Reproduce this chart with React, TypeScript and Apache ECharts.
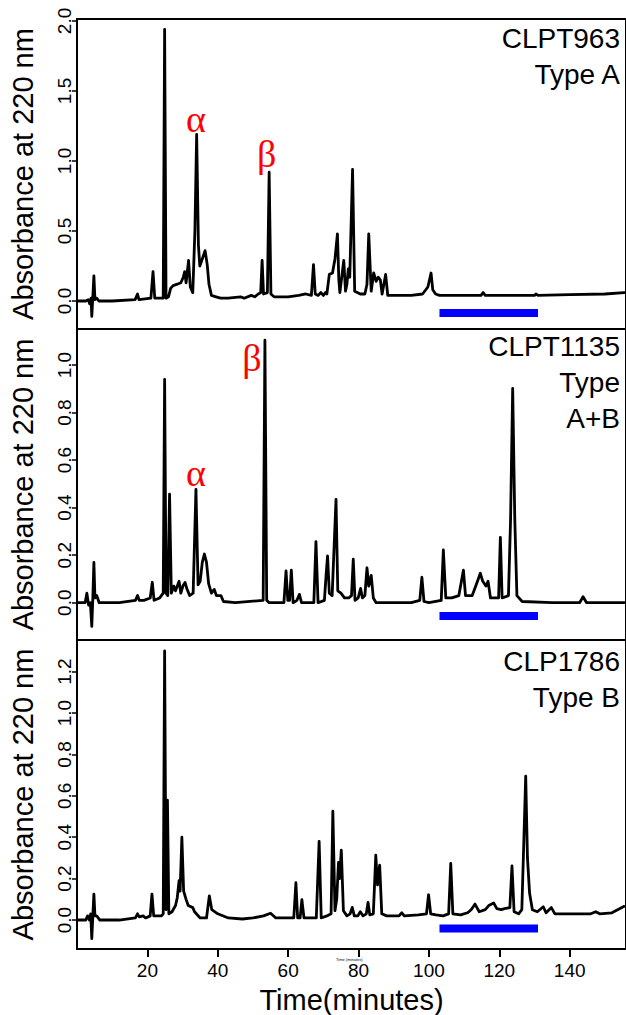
import React, { useEffect, useRef } from "react";
import * as echarts from "echarts";

// Retention time axis (minutes)
const timeMin = 0;
const timeMax = 156;
const timeTicks = [20, 40, 60, 80, 100, 120, 140];

// Absorbance tick values per panel
const ticksTypeA = [0, 0.5, 1.0, 1.5, 2.0];
const ticksTypeAB = [0, 0.2, 0.4, 0.6, 0.8, 1.0];
const ticksTypeB = [0, 0.2, 0.4, 0.6, 0.8, 1.0, 1.2];

// Absorbance ranges per panel
const rangeTypeA = [-0.2, 2.014];
const rangeTypeAB = [-0.157, 1.152];
const rangeTypeB = [-0.14, 1.353];

// Chromatogram: CLPT963 (Type A) — [minutes, absorbance]
const traceCLPT963: [number, number][] = [
  [0.2, 0.0], [2.5, 0.0], [3.2, 0.01], [3.6, -0.02], [4.0, 0.02], [4.2, -0.11], [4.5, 0.03],
  [4.8, 0.18], [5.1, 0.01], [5.6, 0.02], [6.2, 0.0], [10, 0.0], [16.5, 0.01], [17.2, 0.05],
  [17.6, 0.01], [21.0, 0.02], [21.6, 0.21], [22.1, 0.02], [24.5, 0.02], [24.9, 1.94],
  [25.3, 0.02], [26.0, 0.03], [26.6, 0.09], [27.3, 0.11], [28.5, 0.12], [29.5, 0.13],
  [30.2, 0.17], [30.6, 0.21], [31.0, 0.13], [31.7, 0.29], [32.2, 0.1], [32.9, 0.06],
  [33.5, 0.5], [34.0, 1.19], [34.5, 0.4], [34.9, 0.25], [35.6, 0.3], [36.4, 0.36],
  [37.0, 0.26], [37.5, 0.12], [38.2, 0.04], [39.5, 0.03], [40.8, 0.02], [43, 0.02],
  [46.5, 0.03], [47.5, 0.02], [49.5, 0.04], [50.5, 0.03], [51.5, 0.05], [52.2, 0.06],
  [52.6, 0.29], [53.0, 0.05], [54.1, 0.06], [54.6, 0.92], [55.1, 0.05], [56, 0.03],
  [60, 0.03], [63, 0.04], [65, 0.05], [66.6, 0.04], [67.2, 0.26], [67.7, 0.05],
  [68.5, 0.04], [69.3, 0.06], [70.0, 0.04], [70.6, 0.06], [71.0, 0.05], [71.7, 0.19],
  [72.6, 0.2], [73.3, 0.3], [74.0, 0.48], [74.4, 0.15], [74.7, 0.06], [75.8, 0.29],
  [76.3, 0.07], [76.7, 0.12], [77.1, 0.23], [77.5, 0.17], [78.3, 0.94], [78.9, 0.07],
  [80.5, 0.05], [81.8, 0.05], [82.4, 0.12], [82.9, 0.48], [83.6, 0.07], [84.3, 0.2],
  [85.0, 0.14], [85.6, 0.17], [86.2, 0.15], [86.7, 0.05], [87.7, 0.19], [88.3, 0.04],
  [89.5, 0.04], [95, 0.04], [98.2, 0.05], [99.7, 0.1], [100.6, 0.2], [101.1, 0.08],
  [101.9, 0.05], [103, 0.04], [110, 0.04], [114.8, 0.04], [115.4, 0.06], [116, 0.04],
  [125, 0.04], [130, 0.04], [130.4, 0.05], [131, 0.04], [140, 0.045], [150, 0.05],
  [155.5, 0.06],
];

// Chromatogram: CLPT1135 (Type A+B)
const traceCLPT1135: [number, number][] = [
  [0.2, 0.0], [2.3, 0.0], [2.8, 0.04], [3.3, -0.01], [3.8, 0.0], [4.2, -0.1], [4.5, 0.02],
  [4.8, 0.17], [5.1, 0.02], [5.6, 0.03], [6.3, 0.0], [12, 0.0], [16.6, 0.01], [17.2, 0.03],
  [17.7, 0.01], [19, 0.01], [20.8, 0.02], [21.4, 0.086], [21.9, 0.01], [23.5, 0.02],
  [24.5, 0.04], [24.9, 0.94], [25.3, 0.04], [25.8, 0.03], [26.3, 0.457], [26.8, 0.04],
  [27.5, 0.07], [28.0, 0.05], [29.0, 0.09], [29.5, 0.04], [30.1, 0.07], [30.7, 0.085],
  [31.2, 0.06], [32.0, 0.03], [33.0, 0.04], [33.8, 0.477], [34.4, 0.075], [35.0, 0.09],
  [35.6, 0.17], [36.2, 0.205], [36.8, 0.17], [37.4, 0.08], [38.2, 0.04], [39.0, 0.056],
  [39.6, 0.03], [40.9, 0.03], [41.6, 0.005], [45, 0.0], [52.9, 0.01], [53.4, 1.105],
  [53.9, 0.01], [54.6, 0.0], [58.8, 0.0], [59.4, 0.134], [59.9, 0.01], [60.4, 0.01],
  [60.9, 0.137], [61.4, 0.0], [62.5, 0.01], [63.2, 0.035], [63.8, 0.0], [67.3, 0.0],
  [67.9, 0.257], [68.5, 0.0], [70.3, 0.01], [70.8, 0.12], [71.2, 0.197], [71.7, 0.04],
  [72.5, 0.03], [73.6, 0.435], [74.1, 0.05], [75.0, 0.04], [76.0, 0.02], [77.2, 0.02],
  [78.0, 0.03], [78.5, 0.183], [79.0, 0.01], [79.9, 0.02], [80.6, 0.06], [81.1, 0.02],
  [81.8, 0.03], [82.4, 0.147], [82.9, 0.07], [83.6, 0.115], [84.2, 0.02], [85, 0.0],
  [95, 0.0], [97.4, 0.01], [98.0, 0.107], [98.6, 0.005], [100, 0.0], [103.5, 0.01],
  [104.1, 0.222], [104.8, 0.02], [106.5, 0.02], [108.5, 0.03], [109.8, 0.137],
  [110.4, 0.03], [112.3, 0.03], [113.8, 0.09], [114.6, 0.124], [115.3, 0.09], [116.2, 0.07],
  [116.8, 0.09], [117.5, 0.02], [119.8, 0.02], [120.3, 0.275], [120.8, 0.02],
  [122.6, 0.03], [123.2, 0.35], [123.8, 0.902], [124.4, 0.35], [125.0, 0.03],
  [126.5, 0.005], [135, 0.0], [142.8, 0.0], [143.8, 0.025], [144.8, 0.0], [155.5, 0.0],
];

// Chromatogram: CLP1786 (Type B)
const traceCLP1786: [number, number][] = [
  [0.2, 0.0], [2.5, 0.0], [3.0, 0.02], [3.5, 0.0], [3.9, 0.03], [4.2, -0.09], [4.5, 0.02],
  [4.8, 0.125], [5.1, 0.02], [5.6, 0.02], [6.5, 0.0], [12, 0.0], [16.6, 0.01], [17.2, 0.03],
  [17.7, 0.015], [18.8, 0.02], [19.5, 0.01], [20.8, 0.02], [21.3, 0.125], [21.8, 0.02],
  [24.0, 0.02], [24.5, 0.03], [24.9, 1.3], [25.3, 0.05], [25.7, 0.579], [26.1, 0.03],
  [27.0, 0.04], [28.0, 0.07], [28.5, 0.109], [29.0, 0.19], [29.3, 0.14], [29.8, 0.4],
  [30.3, 0.14], [31.0, 0.1], [31.6, 0.07], [32.9, 0.06], [33.4, 0.04], [35.0, 0.01],
  [36.8, 0.01], [37.6, 0.117], [38.3, 0.05], [40, 0.03], [43, 0.01], [47, 0.005],
  [50, 0.01], [53, 0.02], [55.0, 0.033], [56.5, 0.01], [59, 0.01], [61.6, 0.01],
  [62.2, 0.18], [62.7, 0.01], [63.4, 0.01], [63.9, 0.098], [64.5, 0.01], [66.3, 0.01],
  [68.0, 0.01], [68.8, 0.38], [69.4, 0.01], [71.0, 0.02], [72.2, 0.03], [72.7, 0.526],
  [73.3, 0.045], [73.8, 0.1], [74.3, 0.278], [74.6, 0.2], [75.1, 0.338], [75.7, 0.045],
  [76.7, 0.02], [77.6, 0.03], [78.2, 0.061], [78.8, 0.02], [79.8, 0.02], [80.5, 0.04],
  [81.3, 0.02], [82.2, 0.03], [82.7, 0.085], [83.2, 0.025], [84.2, 0.03], [84.9, 0.313],
  [85.4, 0.17], [86.0, 0.265], [86.6, 0.03], [88, 0.02], [91.5, 0.02], [92.3, 0.035],
  [93.0, 0.02], [97, 0.025], [99.3, 0.03], [99.9, 0.122], [100.5, 0.03], [102, 0.025],
  [104, 0.02], [105.6, 0.03], [106.2, 0.273], [106.8, 0.03], [109, 0.025], [111.0, 0.035],
  [112.0, 0.05], [113.1, 0.077], [114.3, 0.04], [116.0, 0.05], [117.0, 0.07],
  [118.4, 0.082], [119.3, 0.055], [120.5, 0.05], [121.5, 0.055], [123.0, 0.06],
  [123.6, 0.261], [124.2, 0.04], [125.5, 0.03], [126.4, 0.05], [127.0, 0.4], [127.5, 0.695],
  [128.0, 0.3], [128.6, 0.13], [129.4, 0.05], [130.8, 0.04], [132.5, 0.064], [133.3, 0.035],
  [134.8, 0.06], [135.8, 0.03], [140, 0.03], [146, 0.03], [147.4, 0.04], [148.5, 0.03],
  [152, 0.035], [155.5, 0.066],
];

// Collected fraction window (minutes) and the level it is drawn at in each panel
const fractionWindow = [103, 131];
const fractionLevels = [-0.086, -0.056, -0.041];

// Panel captions
const panelCaptions = ["CLPT963\nType A", "CLPT1135\nType\nA+B", "CLP1786\nType B"];

// Chain labels (minutes, absorbance) per panel
const chainTags: { panel: number; name: string; at: [number, number] }[] = [
  { panel: 0, name: "α", at: [33.8, 1.3] },
  { panel: 0, name: "β", at: [53.9, 1.05] },
  { panel: 1, name: "β", at: [49.7, 1.03] },
  { panel: 1, name: "α", at: [33.8, 0.545] },
];

const SANS = '"Liberation Sans", Arial, Helvetica, sans-serif';
const SERIF = "Liberation Serif";

export default function App() {
  const ref = useRef<HTMLDivElement>(null);

  useEffect(() => {
    if (!ref.current) return;
    const chart = echarts.init(ref.current, undefined, { renderer: "svg" });

    const traces = [traceCLPT963, traceCLPT1135, traceCLP1786];
    const ticks = [ticksTypeA, ticksTypeAB, ticksTypeB];
    const ranges = [rangeTypeA, rangeTypeAB, rangeTypeB];
    const layout = [
      { top: 19, height: 310 },
      { top: 329, height: 311 },
      { top: 640, height: 310 },
    ];

    const grid = layout.map((l) => ({
      left: 75,
      right: -2,
      top: l.top,
      height: l.height,
      show: true,
      borderColor: "#000",
      borderWidth: 2,
      backgroundColor: "transparent",
    }));

    const xAxis = layout.map((_, i) => {
      const bottom = i === 2;
      return {
        type: "value",
        gridIndex: i,
        min: timeMin,
        max: timeMax,
        axisLine: { show: bottom, onZero: false, lineStyle: { color: "#000", width: 2 } },
        axisTick: {
          show: bottom,
          customValues: timeTicks,
          length: 8,
          lineStyle: { color: "#000", width: 2 },
        },
        axisLabel: {
          show: bottom,
          customValues: timeTicks,
          color: "#000",
          fontFamily: SANS,
          fontSize: 19,
          margin: 12,
        },
        splitLine: { show: false },
        name: bottom ? "Time(minutes)" : "",
        nameLocation: "middle",
        nameGap: 36,
        nameTextStyle: { color: "#000", fontFamily: SANS, fontSize: 29 },
      };
    });

    const yAxis = layout.map((_, i) => ({
      type: "value",
      gridIndex: i,
      min: ranges[i][0],
      max: ranges[i][1],
      axisLine: { show: true, onZero: false, lineStyle: { color: "#000", width: 2 } },
      axisTick: {
        show: true,
        customValues: ticks[i],
        length: 5,
        lineStyle: { color: "#000", width: 1.5 },
      },
      axisLabel: {
        customValues: ticks[i],
        rotate: 90,
        color: "#000",
        fontFamily: SANS,
        fontSize: 19,
        margin: 3,
        formatter: (v: number) => v.toFixed(1),
      },
      splitLine: { show: false },
      name: "Absorbance at 220 nm",
      nameLocation: "middle",
      nameGap: 40,
      nameTextStyle: { color: "#000", fontFamily: SANS, fontSize: 29 },
    }));

    const series: any[] = [];
    traces.forEach((trace, i) => {
      series.push({
        type: "line",
        xAxisIndex: i,
        yAxisIndex: i,
        data: trace,
        symbol: "none",
        clip: true,
        lineStyle: { color: "#000", width: 2.8, join: "round", cap: "round" },
        z: 3,
      });
      series.push({
        type: "line",
        xAxisIndex: i,
        yAxisIndex: i,
        data: fractionWindow.map((t) => [t, fractionLevels[i]]),
        symbol: "none",
        lineStyle: { color: "#0000ff", width: 8, cap: "butt" },
        z: 2,
      });
      const tags = chainTags.filter((c) => c.panel === i);
      if (tags.length) {
        series.push({
          type: "scatter",
          xAxisIndex: i,
          yAxisIndex: i,
          symbolSize: 0,
          itemStyle: { opacity: 1 },
          data: tags.map((c) => ({ name: c.name, value: c.at })),
          label: {
            show: true,
            position: "inside",
            formatter: "{b}",
            color: "#ff0000",
            opacity: 1,
            fontFamily: SERIF,
            fontSize: 38,
          },
          z: 4,
        });
      }
    });

    const captionTops = [20, 328, 643];
    const graphic: any[] = panelCaptions.map((text, i) => ({
      type: "text",
      right: 6,
      top: captionTops[i],
      style: {
        text,
        fill: "#000",
        font: `28px ${SANS}`,
        textAlign: "right",
        lineHeight: 36,
      },
    }));
    graphic.push({
      type: "text",
      left: 336,
      top: 957,
      style: { text: "Time (minutes)", fill: "#000", font: `4px ${SANS}` },
    });

    chart.setOption({
      animation: false,
      backgroundColor: "#fff",
      grid,
      xAxis,
      yAxis,
      series,
      graphic,
    });

    return () => chart.dispose();
  }, []);

  return (
    <div
      ref={ref}
      style={{ position: "absolute", left: 0, top: 0, width: 626, height: 1015 }}
    />
  );
}
